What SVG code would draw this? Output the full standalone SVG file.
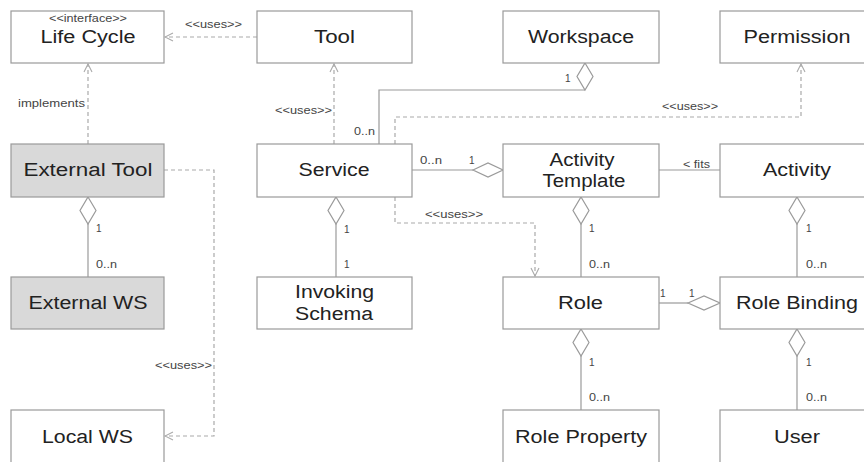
<svg xmlns="http://www.w3.org/2000/svg" width="864" height="462" viewBox="0 0 864 462">
<style>
.box{fill:#fff;stroke:#9a9a9a;stroke-width:1.2}
.ext{fill:#d9d9d9}
.lbl{font-family:"Liberation Sans",Arial,sans-serif;font-size:18px;fill:#222;text-anchor:middle}
.sm{font-family:"Liberation Sans",Arial,sans-serif;font-size:10px;fill:#444}
.solid{fill:none;stroke:#9a9a9a;stroke-width:1.2}
.dash{fill:none;stroke:#aaa;stroke-width:1.2;stroke-dasharray:4,3}
.dia{fill:#fff;stroke:#9a9a9a;stroke-width:1.2}
</style>
<defs>
<marker id="arr" markerWidth="10" markerHeight="10" refX="9" refY="5" orient="auto" markerUnits="userSpaceOnUse">
<path d="M1,1 L9,5 L1,9" fill="none" stroke="#aaa" stroke-width="1.1"/>
</marker>
</defs>
<rect width="864" height="462" fill="#fff"/>

<g id="connectors">
<path class="dash" d="M257,37 H165" marker-end="url(#arr)"/>
<path class="dash" d="M88,144 V64" marker-end="url(#arr)"/>
<path class="dash" d="M334,144 V64" marker-end="url(#arr)"/>
<path class="dash" d="M164,170 H214 V436 H165" marker-end="url(#arr)"/>
<path class="dash" d="M395,144 V117 H801 V64" marker-end="url(#arr)"/>
<path class="dash" d="M395,197 V223 H535 V276" marker-end="url(#arr)"/>
<path class="solid" d="M379,144 V90 H585"/>
<polygon class="dia" points="585,63 593,76.5 585,90 577,76.5"/>
<path class="solid" d="M412,170 H473"/>
<polygon class="dia" points="473,170 488,163 503,170 488,177"/>
<path class="solid" d="M659,170 H720"/>
<path class="solid" d="M88,224 V277"/>
<polygon class="dia" points="88,197 96,210.5 88,224 80,210.5"/>
<path class="solid" d="M336,224 V277"/>
<polygon class="dia" points="336,197 344,210.5 336,224 328,210.5"/>
<path class="solid" d="M581,224 V277"/>
<polygon class="dia" points="581,197 589,210.5 581,224 573,210.5"/>
<path class="solid" d="M797,224 V277"/>
<polygon class="dia" points="797,197 805,210.5 797,224 789,210.5"/>
<path class="solid" d="M659,303 H688"/>
<polygon class="dia" points="688,303 704,296 720,303 704,310"/>
<path class="solid" d="M581,356 V410"/>
<polygon class="dia" points="581,329 589,342.5 581,356 573,342.5"/>
<path class="solid" d="M797,356 V410"/>
<polygon class="dia" points="797,329 805,342.5 797,356 789,342.5"/>

<text class="sm" x="185" y="28" textLength="57" lengthAdjust="spacingAndGlyphs">&lt;&lt;uses&gt;&gt;</text>
<text class="sm" x="18" y="107" textLength="67" lengthAdjust="spacingAndGlyphs">implements</text>
<text class="sm" x="275" y="114" textLength="57" lengthAdjust="spacingAndGlyphs">&lt;&lt;uses&gt;&gt;</text>
<text class="sm" x="354" y="135" textLength="21" lengthAdjust="spacingAndGlyphs">0..n</text>
<text class="sm" x="565" y="82">1</text>
<text class="sm" x="662" y="110" textLength="56" lengthAdjust="spacingAndGlyphs">&lt;&lt;uses&gt;&gt;</text>
<text class="sm" x="420" y="164" textLength="22" lengthAdjust="spacingAndGlyphs">0..n</text>
<text class="sm" x="469" y="164">1</text>
<text class="sm" x="425" y="218" textLength="58" lengthAdjust="spacingAndGlyphs">&lt;&lt;uses&gt;&gt;</text>
<text class="sm" x="683" y="168" textLength="27" lengthAdjust="spacingAndGlyphs">&lt; fits</text>
<text class="sm" x="96" y="232">1</text>
<text class="sm" x="96" y="268" textLength="21" lengthAdjust="spacingAndGlyphs">0..n</text>
<text class="sm" x="344" y="233">1</text>
<text class="sm" x="344" y="268">1</text>
<text class="sm" x="589" y="232">1</text>
<text class="sm" x="589" y="268" textLength="21" lengthAdjust="spacingAndGlyphs">0..n</text>
<text class="sm" x="806" y="232">1</text>
<text class="sm" x="806" y="268" textLength="21" lengthAdjust="spacingAndGlyphs">0..n</text>
<text class="sm" x="660" y="297">1</text>
<text class="sm" x="689" y="297">1</text>
<text class="sm" x="589" y="366">1</text>
<text class="sm" x="589" y="401" textLength="21" lengthAdjust="spacingAndGlyphs">0..n</text>
<text class="sm" x="806" y="366">1</text>
<text class="sm" x="806" y="401" textLength="21" lengthAdjust="spacingAndGlyphs">0..n</text>
<text class="sm" x="155" y="369" textLength="57" lengthAdjust="spacingAndGlyphs">&lt;&lt;uses&gt;&gt;</text>
</g>

<g id="life-cycle">
<rect class="box" x="11" y="11" width="153" height="52"/>
<text class="sm" x="88" y="22" text-anchor="middle" textLength="78" lengthAdjust="spacingAndGlyphs">&lt;&lt;interface&gt;&gt;</text>
<text class="lbl" x="88" y="43" textLength="95" lengthAdjust="spacingAndGlyphs">Life Cycle</text>
</g>
<g id="tool">
<rect class="box" x="257" y="11" width="155" height="52"/>
<text class="lbl" x="334.5" y="43" textLength="41" lengthAdjust="spacingAndGlyphs">Tool</text>
</g>
<g id="workspace">
<rect class="box" x="503" y="11" width="156" height="52"/>
<text class="lbl" x="581" y="43" textLength="106" lengthAdjust="spacingAndGlyphs">Workspace</text>
</g>
<g id="permission">
<rect class="box" x="720" y="11" width="155" height="52"/>
<text class="lbl" x="797" y="43" textLength="107" lengthAdjust="spacingAndGlyphs">Permission</text>
</g>
<g id="external-tool">
<rect class="box ext" x="11" y="144" width="153" height="53"/>
<text class="lbl" x="88" y="176" textLength="129" lengthAdjust="spacingAndGlyphs">External Tool</text>
</g>
<g id="service">
<rect class="box" x="257" y="144" width="155" height="53"/>
<text class="lbl" x="334" y="176" textLength="71" lengthAdjust="spacingAndGlyphs">Service</text>
</g>
<g id="activity-template">
<rect class="box" x="503" y="144" width="156" height="53"/>
<text class="lbl" x="582" y="166" textLength="65" lengthAdjust="spacingAndGlyphs">Activity</text>
<text class="lbl" x="584" y="187" textLength="83" lengthAdjust="spacingAndGlyphs">Template</text>
</g>
<g id="activity">
<rect class="box" x="720" y="144" width="155" height="53"/>
<text class="lbl" x="797" y="176" textLength="68" lengthAdjust="spacingAndGlyphs">Activity</text>
</g>
<g id="external-ws">
<rect class="box ext" x="11" y="277" width="153" height="52"/>
<text class="lbl" x="88" y="309" textLength="119" lengthAdjust="spacingAndGlyphs">External WS</text>
</g>
<g id="invoking-schema">
<rect class="box" x="257" y="277" width="155" height="52"/>
<text class="lbl" x="334.5" y="298" textLength="79" lengthAdjust="spacingAndGlyphs">Invoking</text>
<text class="lbl" x="334" y="320" textLength="78" lengthAdjust="spacingAndGlyphs">Schema</text>
</g>
<g id="role">
<rect class="box" x="503" y="277" width="156" height="52"/>
<text class="lbl" x="580.5" y="309" textLength="45" lengthAdjust="spacingAndGlyphs">Role</text>
</g>
<g id="role-binding">
<rect class="box" x="720" y="277" width="155" height="52"/>
<text class="lbl" x="797" y="309" textLength="122" lengthAdjust="spacingAndGlyphs">Role Binding</text>
</g>
<g id="local-ws">
<rect class="box" x="11" y="410" width="153" height="60"/>
<text class="lbl" x="87.5" y="443" textLength="91" lengthAdjust="spacingAndGlyphs">Local WS</text>
</g>
<g id="role-property">
<rect class="box" x="503" y="410" width="156" height="60"/>
<text class="lbl" x="581" y="443" textLength="132" lengthAdjust="spacingAndGlyphs">Role Property</text>
</g>
<g id="user">
<rect class="box" x="720" y="410" width="155" height="60"/>
<text class="lbl" x="797" y="443" textLength="46" lengthAdjust="spacingAndGlyphs">User</text>
</g>
</svg>
